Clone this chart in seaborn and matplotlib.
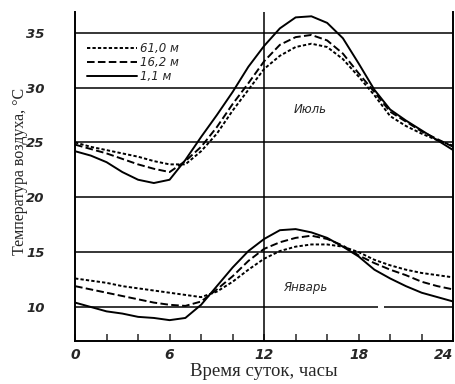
import numpy as np
import pandas as pd
import seaborn as sns
import matplotlib.pyplot as plt

sns.set_style('ticks')
plt.rcParams['font.family'] = ['DejaVu Sans']

hours = list(range(25))
heights = ['61,0 м', '16,2 м', '1,1 м']

# июль
july_61 = [25.0, 24.6, 24.3, 24.0, 23.7, 23.3, 23.0, 23.0, 24.2, 25.8, 27.9, 29.8, 31.7,
           32.9, 33.7, 34.0, 33.7, 32.6, 31.0, 29.3, 27.4, 26.5, 25.8, 25.2, 24.7]
july_16 = [24.8, 24.4, 24.0, 23.5, 23.0, 22.6, 22.3, 23.3, 24.6, 26.4, 28.5, 30.4, 32.4,
           33.9, 34.6, 34.8, 34.3, 33.1, 31.3, 29.6, 27.8, 26.9, 26.0, 25.3, 24.6]
july_1 = [24.2, 23.8, 23.2, 22.3, 21.6, 21.3, 21.6, 23.4, 25.5, 27.5, 29.6, 31.9, 33.8,
          35.4, 36.4, 36.5, 35.9, 34.5, 32.2, 29.8, 28.0, 27.0, 26.1, 25.2, 24.3]

# январь
jan_61 = [12.6, 12.4, 12.2, 11.9, 11.7, 11.5, 11.3, 11.1, 10.9, 11.4, 12.3, 13.4, 14.4,
          15.1, 15.5, 15.7, 15.7, 15.5, 15.0, 14.3, 13.8, 13.4, 13.1, 12.9, 12.7]
jan_16 = [11.9, 11.6, 11.3, 11.0, 10.7, 10.4, 10.2, 10.1, 10.5, 11.6, 12.8, 14.2, 15.3,
          15.9, 16.3, 16.5, 16.2, 15.6, 14.7, 14.0, 13.4, 12.9, 12.3, 11.9, 11.6]
jan_1 = [10.4, 10.0, 9.6, 9.4, 9.1, 9.0, 8.8, 9.0, 10.2, 11.9, 13.6, 15.1, 16.2,
         17.0, 17.1, 16.8, 16.3, 15.5, 14.6, 13.4, 12.6, 11.9, 11.3, 10.9, 10.5]

y_ticks = [10, 15, 20, 25, 30, 35]
x_ticks = [0, 6, 12, 18, 24]

dash_styles = {'61,0 м': (1.7, 1.1), '16,2 м': (3.9, 1.7), '1,1 м': ''}

fig = plt.figure(figsize=(4.55, 3.84), dpi=100)
ax = fig.add_axes([0.165, 0.112, 0.831, 0.857])

# сетка
for v in y_ticks:
    if v == 10:
        ax.hlines(v, 0, 19.2, color='black', lw=1.1, zorder=1)
        ax.hlines(v, 19.6, 24, color='black', lw=1.1, zorder=1)
    else:
        ax.axhline(v, color='black', lw=1.1, zorder=1)
ax.axvline(12, color='black', lw=1.1, zorder=1)

series = [(july_61, jan_61), (july_16, jan_16), (july_1, jan_1)]
for h, (jul, jan) in zip(heights, series):
    df = pd.DataFrame({'hour': hours, 'jul': jul, 'jan': jan})
    sns.lineplot(data=df, x='hour', y='jul', ax=ax, color='black', lw=1.4, label=h)
    sns.lineplot(data=df, x='hour', y='jan', ax=ax, color='black', lw=1.4)
    if dash_styles[h]:
        ax.lines[-1].set_dashes(dash_styles[h])
        ax.lines[-2].set_dashes(dash_styles[h])

ax.text(14.9, 28.0, 'Июль', style='italic', fontsize=8.5, ha='center', va='center')
ax.text(14.6, 11.8, 'Январь', style='italic', fontsize=8.5, ha='center', va='center')

ax.legend(loc='upper left', bbox_to_anchor=(0.016, 0.925), frameon=False,
          borderpad=0, handlelength=4.2, handletextpad=0.3, labelspacing=0.05,
          prop={'style': 'italic', 'size': 8.5})

ax.set_xlim(0, 24)
ax.set_ylim(6.9, 36.9)
ax.set_xticks(x_ticks)
ax.set_xticks(range(0, 25, 2), minor=True)
ax.set_yticks(y_ticks)
ax.tick_params(axis='x', which='both', direction='in', length=5, width=1.1, pad=5,
               labelsize=10)
ax.tick_params(axis='y', length=0, pad=22, labelsize=9.5)
for t in ax.get_xticklabels() + ax.get_yticklabels():
    t.set_fontstyle('italic')
    t.set_fontweight('bold')
ax.get_xticklabels()[-1].set_ha('right')

ax.spines['top'].set_visible(False)
for s in ['left', 'right', 'bottom']:
    ax.spines[s].set_linewidth(1.4)
    ax.spines[s].set_color('black')

ax.set_xlabel('Время суток, часы', family='Liberation Serif', fontsize=13.5)
ax.set_ylabel('Температура воздуха, °C', family='Liberation Serif', fontsize=11.5)
ax.xaxis.set_label_coords(0.5, -0.068)
ax.yaxis.set_label_coords(-0.125, 0.514)

fig.savefig('out.png', dpi=100)
